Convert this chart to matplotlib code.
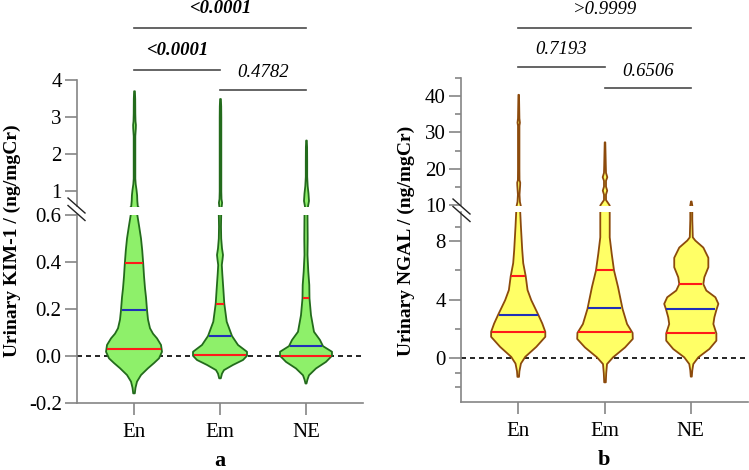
import numpy as np
import matplotlib
matplotlib.use("Agg")
from matplotlib import pyplot as plt
from matplotlib.transforms import blended_transform_factory
from matplotlib.lines import Line2D

plt.rcParams['font.family'] = ['Liberation Serif', 'DejaVu Serif']

groups = ["En", "Em", "NE"]

# violin outlines: value -> half width (in px of the original)
kim_en_y = [-0.159, -0.135, -0.109, -0.081, -0.052, -0.03, -0.01, 0.018, 0.047, 0.075, 0.095, 0.118, 0.155,
            0.196, 0.25, 0.288, 0.34, 0.394, 0.45, 0.5, 0.55, 0.6, 0.75, 0.9, 1.05, 1.2, 1.35, 1.6, 2.0, 2.5,
            2.7, 2.8, 2.9, 3.1, 3.5, 3.71]
kim_en_w = [0.8, 1.5, 3, 7, 14, 20, 25, 28, 27, 23, 19, 16, 14,
            13, 12, 11, 10, 9.2, 8.2, 7, 5.2, 3.3, 2.8, 2.6, 2.0, 1.2, 0.8, 0.8, 0.8, 0.8,
            1.3, 1.4, 1.0, 0.8, 0.7, 0.4]
kim_em_y = [-0.095, -0.075, -0.06, -0.038, -0.017, 0.001, 0.018, 0.047, 0.085, 0.146, 0.223, 0.288, 0.35,
            0.387, 0.41, 0.43, 0.458, 0.5, 0.55, 0.6, 0.7, 0.8, 1.0, 1.5, 2.0, 2.5, 3.0, 3.3, 3.5]
kim_em_w = [0.8, 2, 4, 13, 23, 27, 27, 18, 12, 6.7, 4.3, 3.3, 2.3,
            1.8, 2.5, 3, 2, 1.2, 1.0, 1.2, 1.6, 1.0, 0.8, 0.8, 0.8, 0.8, 0.8, 0.7, 0.4]
kim_ne_y = [-0.117, -0.1, -0.082, -0.053, -0.025, 0.001, 0.018, 0.042, 0.068, 0.103, 0.174, 0.245, 0.302,
            0.359, 0.43, 0.5, 0.6, 0.75, 0.95, 1.15, 1.4, 1.8, 2.2, 2.38]
kim_ne_w = [0.5, 1.5, 3, 10, 20, 26, 26, 17, 14, 8, 5, 3.5, 3.3,
            2.3, 1.5, 1.7, 1.5, 2.5, 2.0, 1.2, 0.7, 0.7, 0.6, 0.3]

ngal_en_y = [-1.28, -0.9, -0.37, 0.09, 0.77, 1.46, 1.8, 2.37, 2.97, 3.97, 4.66, 5.6, 6.5, 7.4, 9.0, 10.0,
             11, 13, 15.5, 16.3, 17, 20, 32, 32.8, 34, 40.5]
ngal_en_w = [0.8, 1.2, 2.7, 7, 18, 27, 27, 24, 20, 13, 9.3, 7.5, 5, 4, 2.7, 2.0,
             1.2, 0.8, 1.4, 1.5, 0.8, 0.7, 0.7, 1.2, 0.7, 0.3]
ngal_em_y = [-1.62, -1.0, -0.37, 0.09, 0.77, 1.35, 1.76, 2.37, 3.4, 4.9, 6.03, 7.17, 8.3, 10.0, 10.5,
             11.5, 13, 14.1, 15.2, 16.8, 17.8, 19, 21, 27.4]
ngal_em_w = [0.8, 1.2, 2, 8, 20, 27.7, 27.5, 22, 17.5, 13, 9, 6.7, 4.7, 4.7, 3.5,
             1.0, 1.0, 2.2, 1.0, 1.0, 2.3, 1.0, 0.8, 0.3]
ngal_ne_y = [-1.23, -0.8, -0.37, 0.09, 0.66, 1.23, 1.73, 2.37, 2.83, 3.33, 3.75, 4.2, 4.66, 5.1, 5.57,
             6.25, 6.9, 7.6, 8.08, 8.3, 9.5, 10.0, 11.1]
ngal_ne_w = [0.5, 1, 2, 7, 18, 25, 25, 22, 23, 25, 27, 24, 15, 12, 13,
             17, 17, 12, 4, 1.5, 1, 1, 0.3]

# quartiles (red) and medians (blue)
kim_q1 = [0.030, 0.004, 0.001]
kim_med = [0.196, 0.085, 0.043]
kim_q3 = [0.394, 0.223, 0.245]
ngal_q1 = [1.80, 1.76, 1.73]
ngal_med = [2.97, 3.40, 3.33]
ngal_q3 = [5.60, 6.03, 5.10]

kim_p = ["<0.0001", "<0.0001", "0.4782"]
ngal_p = [">0.9999", "0.7193", "0.6506"]

W, H = 749, 470
fig = plt.figure(figsize=(W/100, H/100), dpi=100)

def px_axes(l, t, r, b):
    return fig.add_axes([l/W, 1 - b/H, (r - l)/W, (b - t)/H])

def fy(py):
    return 1 - py/H

axcol = "#858585"
PXU = 86.0  # px per category on the x axis

def style(ax, lo):
    for s in ["top", "right"]:
        ax.spines[s].set_visible(False)
    ax.spines["left"].set_color(axcol)
    ax.spines["left"].set_linewidth(1.2)
    if lo:
        ax.spines["bottom"].set_color(axcol)
        ax.spines["bottom"].set_linewidth(1.2)
        ax.set_xticks([1, 2, 3])
        ax.set_xticklabels(groups)
    else:
        ax.spines["bottom"].set_visible(False)
        ax.set_xticks([])
    ax.set_xlim(0.337, 3.663)
    ax.tick_params(which="major", length=8.5, width=1.2, color=axcol, labelsize=15, pad=2.5)
    ax.tick_params(which="minor", length=4.5, width=1.2, color=axcol)
    ax.tick_params(axis="x", pad=6)
    ax.patch.set_alpha(0)

def violins(axes, profiles, q1, med, q3, fc, ec):
    for ax in axes:
        for i, (ys, ws) in enumerate(profiles):
            ys = np.array(ys)
            ws = np.array(ws)/PXU
            x = i + 1
            ax.fill_betweenx(ys, x - ws, x + ws, facecolor=fc, edgecolor=ec, lw=1.3, zorder=3)
            for q, c in [(q1[i], "#ff1a1a"), (q3[i], "#ff1a1a"), (med[i], "#2030b8")]:
                hw = np.interp(q, ys, ws) - 0.6/PXU
                ax.plot([x - hw, x + hw], [q, q], color=c, lw=1.5, zorder=4, solid_capstyle="butt")

def sigbars(ax, rows, labels, bolds):
    tr = blended_transform_factory(ax.transData, fig.transFigure)
    for (x0, x1, ybar, ytxt), lab, b in zip(rows, labels, bolds):
        ax.plot([x0, x1], [fy(ybar), fy(ybar)], color="#4a4a4a", lw=1.2, transform=tr, clip_on=False)
        ax.text((x0 + x1)/2, fy(ytxt), lab, transform=tr, ha="center", va="baseline", fontsize=13.5,
                style="italic", fontweight="bold" if b else "normal")

def breakmarks(x0, y0):
    for dy in [0, 7.5]:
        fig.add_artist(Line2D([x0/W, (x0 + 17)/W], [fy(y0 + dy), fy(y0 + dy + 15)], color="#222222", lw=1.0))

# panel a
a_lo = px_axes(77, 215, 363, 403)
a_hi = px_axes(77, 80, 363, 206)
style(a_lo, True)
style(a_hi, False)
a_lo.set_ylim(-0.2, 0.6)
a_lo.set_yticks([-0.2, 0.0, 0.2, 0.4, 0.6])
a_lo.set_yticklabels(["-0.2", "0.0", "0.2", "0.4", "0.6"])
a_hi.set_ylim(0.6, 4.0)
a_hi.set_yticks([1, 2, 3, 4])
a_lo.axhline(0, color="black", lw=1.2, dashes=(3, 2.4), zorder=1)
violins([a_lo, a_hi], [(kim_en_y, kim_en_w), (kim_em_y, kim_em_w), (kim_ne_y, kim_ne_w)],
        kim_q1, kim_med, kim_q3, "#8ef06a", "#236b1c")
sigbars(a_hi, [(1, 3, 28, 13), (1, 2, 70, 55), (2, 3, 90, 77)], kim_p, [True, True, False])
breakmarks(68, 198)

# panel b
b_lo = px_axes(461, 212, 748, 402)
b_hi = px_axes(461, 78, 748, 205)
style(b_lo, True)
style(b_hi, False)
b_lo.set_ylim(-3, 10)
b_lo.set_yticks([0, 4, 8])
b_lo.set_yticks([-2, -1, 2, 6, 9], minor=True)
b_hi.set_ylim(10, 45)
b_hi.set_yticks([10, 20, 30, 40])
b_hi.set_yticks([15, 25, 35, 45], minor=True)
b_lo.axhline(0, color="black", lw=1.2, dashes=(3, 2.4), zorder=1)
violins([b_lo, b_hi], [(ngal_en_y, ngal_en_w), (ngal_em_y, ngal_em_w), (ngal_ne_y, ngal_ne_w)],
        ngal_q1, ngal_med, ngal_q3, "#ffff66", "#8c4a0c")
sigbars(b_hi, [(1, 3, 28, 14), (1, 2, 67, 54), (2, 3, 88, 76)], ngal_p, [False, False, False])
breakmarks(453, 199)

# axis titles and panel letters
fig.text(12/W, fy(241), "Urinary KIM-1 / (ng/mgCr)", rotation=90, ha="center", va="center",
         fontsize=14, fontweight="bold")
fig.text(406/W, fy(241), "Urinary NGAL / (ng/mgCr)", rotation=90, ha="center", va="center",
         fontsize=14, fontweight="bold")
fig.text(220/W, fy(461), "a", ha="center", va="center", fontsize=16, fontweight="bold")
fig.text(604/W, fy(460), "b", ha="center", va="center", fontsize=16, fontweight="bold")

fig.savefig("out.png", dpi=100)
